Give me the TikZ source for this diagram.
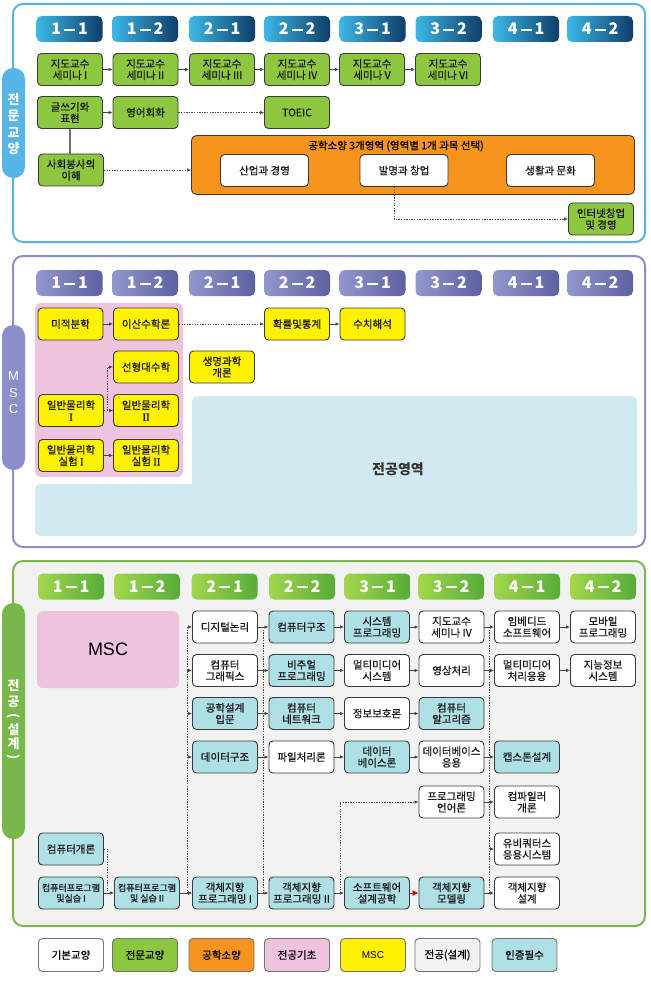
\documentclass[tikz,border=0pt]{standalone}
\usepackage{fontspec}
\usepackage{graphicx}
\setmainfont{Noto Sans CJK KR}
\newfontfamily\krm{Noto Sans CJK KR}[FakeBold=0.7]
\newfontfamily\lat{Liberation Sans}
\newfontfamily\latser{Liberation Serif}[FakeBold=0.5]
\usetikzlibrary{arrows.meta}
\definecolor{blueframe}{HTML}{56B5E4}
\definecolor{purpframe}{HTML}{8B8EC8}
\definecolor{greenframe}{HTML}{78B84A}
\definecolor{cgreen}{HTML}{8DC63F}
\definecolor{corange}{HTML}{F7941D}
\definecolor{cpink}{HTML}{EEC3DD}
\definecolor{cyellow}{HTML}{FFF200}
\definecolor{cgray}{HTML}{F2F2F2}
\definecolor{ccyan}{HTML}{AEE0E6}
\definecolor{clblue}{HTML}{D1EAF1}
\definecolor{bord}{HTML}{3A3A3A}
\definecolor{sAl}{HTML}{3DB8E6}
\definecolor{sAr}{HTML}{0F3D69}
\definecolor{sBl}{HTML}{9297CE}
\definecolor{sBr}{HTML}{5C60A0}
\definecolor{sCl}{HTML}{A3D64C}
\definecolor{sCr}{HTML}{56AC38}
\definecolor{lnk}{HTML}{454545}
\tikzset{
  box/.style={draw=bord, line width=0.9pt, rounded corners=4pt, minimum width=65pt,
    minimum height=32pt, inner sep=0pt, align=center, text=black!90,
    font=\krm\fontsize{10.5}{11.5}\selectfont},
  gbox/.style={box, fill=cgreen},
  ybox/.style={box, fill=cyellow},
  cbox/.style={box, fill=ccyan},
  wbox/.style={box, fill=white},
  sem/.style={rounded corners=5pt, minimum width=66pt, minimum height=26pt, inner sep=0pt,
    text=white, font=\fontsize{16}{16}\selectfont\bfseries},
  semA/.style={sem, left color=sAl, right color=sAr},
  semB/.style={sem, left color=sBl, right color=sBr},
  semC/.style={sem, left color=sCl, right color=sCr},
  arr/.style={-{Latex[length=4pt,width=3.5pt]}, draw=lnk, line width=0.8pt},
  dotline/.style={draw=lnk, line width=0.7pt, dash pattern=on 1.3pt off 1.3pt},
  dotarr/.style={dotline, -{Latex[length=4pt,width=3.5pt]}},
  tabtxt/.style={text=white, inner sep=0pt, font=\fontsize{13}{13}\selectfont\bfseries},
  leg/.style={draw=black!55, line width=0.9pt, rounded corners=4pt, minimum width=65pt,
    minimum height=33pt, inner sep=0pt, align=center, font=\krm\fontsize{10.5}{11.5}\selectfont}
}
\newcommand{\sdash}[2]{#1\hspace{3pt}\rule[4.2pt]{11pt}{1.8pt}\hspace{3pt}#2}
\begin{document}
\begin{tikzpicture}[x=1pt,y=-1pt]
\useasboundingbox (0,0) rectangle (650,992);
\fill[white] (0,0) rectangle (650,992);

% ===================== Section 1 =====================
\draw[blueframe, line width=2pt, rounded corners=10pt] (13,4) rectangle (645,242);
\fill[blueframe, rounded corners=11pt] (2,68) rectangle (25,178);
\node[tabtxt, align=center, font=\fontsize{13}{16.5}\selectfont\bfseries] (tab1) at (13.5,124) {전\\문\\교\\양};

\node[semA] (a1) at (69.5,29) {\sdash{1}{1}};
\node[semA] (a2) at (145,29) {\sdash{1}{2}};
\node[semA] (a3) at (222,29) {\sdash{2}{1}};
\node[semA] (a4) at (297,29) {\sdash{2}{2}};
\node[semA] (a5) at (372.5,29) {\sdash{3}{1}};
\node[semA] (a6) at (448.5,29) {\sdash{3}{2}};
\node[semA] (a7) at (526,29) {\sdash{4}{1}};
\node[semA] (a8) at (600,29) {\sdash{4}{2}};

\node[gbox] (g1) at (70,69.5) {지도교수\\세미나 I};
\node[gbox] (g2) at (145.5,69.5) {지도교수\\세미나 II};
\node[gbox] (g3) at (222,69.5) {지도교수\\세미나 III};
\node[gbox] (g4) at (297,69.5) {지도교수\\세미나 IV};
\node[gbox] (g5) at (372,69.5) {지도교수\\세미나 V};
\node[gbox] (g6) at (448,69.5) {지도교수\\세미나 VI};
\draw[arr] (g1) -- (g2);
\draw[arr] (g2) -- (g3);
\draw[arr] (g3) -- (g4);
\draw[arr] (g4) -- (g5);
\draw[arr] (g5) -- (g6);

\node[gbox] (wr) at (70,112.5) {글쓰기와\\표현};
\node[gbox] (eng) at (145.5,112.5) {영어회화};
\node[gbox] (toeic) at (297,112.5) {TOEIC};
\draw[arr] (wr) -- (eng);
\draw[dotarr] (eng) -- (toeic);

\node[gbox] (soc) at (71,170) {사회봉사의\\이해};
\draw[black!55, line width=1.2pt] (wr.south) -- (wr.south |- soc.north);

\node[draw=bord, line width=0.9pt, fill=corange, rounded corners=5pt, minimum width=443pt,
  minimum height=59pt, inner sep=0pt] (eng3) at (413,165) {};
\node[inner sep=0pt, font=\krm\fontsize{10.5}{11}\selectfont] (eng3t) at (396,146) {공학소양 3개영역 (영역별 1개 과목 선택)};
\node[wbox, minimum width=88pt] (ind) at (264.5,170.5) {산업과 경영};
\node[wbox, minimum width=88pt] (inv) at (404,170.5) {발명과 창업};
\node[wbox, minimum width=88pt] (life) at (550.5,170.5) {생활과 문화};
\draw[dotarr] (soc) -- (soc -| eng3.west);

\node[gbox] (inet) at (601,219) {인터넷창업\\및 경영};
\coordinate (bs) at (394,187);
\draw[dotarr] (bs) |- (inet.west);

% ===================== Section 2 =====================
\draw[purpframe, line width=2pt, rounded corners=10pt] (13,256) rectangle (645,547);
\fill[purpframe, rounded corners=11pt] (2,325) rectangle (25,470);
\node[tabtxt, align=center, font=\lat\fontsize{13}{16.5}\selectfont] (tab2) at (13.5,393) {M\\S\\C};

\node[semB] (b1) at (69.5,283) {\sdash{1}{1}};
\node[semB] (b2) at (145,283) {\sdash{1}{2}};
\node[semB] (b3) at (222,283) {\sdash{2}{1}};
\node[semB] (b4) at (297,283) {\sdash{2}{2}};
\node[semB] (b5) at (372.5,283) {\sdash{3}{1}};
\node[semB] (b6) at (448.5,283) {\sdash{3}{2}};
\node[semB] (b7) at (526,283) {\sdash{4}{1}};
\node[semB] (b8) at (600,283) {\sdash{4}{2}};

\fill[cpink, rounded corners=6pt] (35,303) rectangle (183,477);
\fill[clblue, rounded corners=6pt] (192,396) rectangle (637,536);
\fill[clblue, rounded corners=6pt] (35,484) rectangle (637,536);
\node[inner sep=0pt, font=\fontsize{14}{14}\selectfont\bfseries, text=black!80] (major) at (398,469) {전공영역};

\node[ybox] (calc) at (70.5,324) {미적분학};
\node[ybox] (disc) at (146,324) {이산수학론};
\node[ybox] (prob) at (297,324) {확률및통계};
\node[ybox] (num) at (372.5,324) {수치해석};
\node[ybox] (lin) at (146,367) {선형대수학};
\node[ybox] (bio) at (222,367) {생명과학\\개론};
\node[ybox] (p1) at (71,410.5) {일반물리학\\{\latser I}};
\node[ybox] (p2) at (146,410.5) {일반물리학\\{\latser II}};
\node[ybox] (p3) at (71,455.5) {일반물리학\\실험 {\latser I}};
\node[ybox] (p4) at (146,455.5) {일반물리학\\실험 {\latser II}};
\draw[arr] (calc) -- (disc);
\draw[dotarr] (disc) -- (prob);
\draw[arr] (prob) -- (num);
\draw[dotarr] (p1) -- (p2);
\coordinate (jm) at (107.5,410.5);
\draw[dotarr] (jm) |- (lin.west);
\draw[arr] (p3) -- (p4);

% ===================== Section 3 =====================
\draw[greenframe, fill=cgray, line width=2pt, rounded corners=10pt] (13,561) rectangle (645,926);
\fill[greenframe, rounded corners=11pt] (2,603) rectangle (25,839);
\node[tabtxt] (t3a) at (13.5,686) {전};
\node[tabtxt] (t3b) at (13.5,702) {공};
\node[tabtxt] (t3c) at (13.5,716) {\rotatebox{-90}{(}};
\node[tabtxt] (t3d) at (13.5,730) {설};
\node[tabtxt] (t3e) at (13.5,744) {계};
\node[tabtxt] (t3f) at (13.5,757) {\rotatebox{-90}{)}};

\node[semC] (c1) at (71,586.5) {\sdash{1}{1}};
\node[semC] (c2) at (147,586.5) {\sdash{1}{2}};
\node[semC] (c3) at (224.5,586.5) {\sdash{2}{1}};
\node[semC] (c4) at (302,586.5) {\sdash{2}{2}};
\node[semC] (c5) at (377.5,586.5) {\sdash{3}{1}};
\node[semC] (c6) at (451,586.5) {\sdash{3}{2}};
\node[semC] (c7) at (527,586.5) {\sdash{4}{1}};
\node[semC] (c8) at (603,586.5) {\sdash{4}{2}};

\node[fill=cpink, rounded corners=6pt, minimum width=142pt, minimum height=77pt, inner sep=0pt,
  font=\lat\fontsize{18}{18}\selectfont] (msc) at (108,649.5) {MSC};

% row 1
\node[wbox] (dl) at (225,627) {디지털논리};
\node[cbox] (ca) at (301.5,627) {컴퓨터구조};
\node[cbox] (sp) at (377,627) {시스템\\프로그래밍};
\node[wbox] (s4) at (451.5,627) {지도교수\\세미나 IV};
\node[wbox] (emb) at (527,627) {임베디드\\소프트웨어};
\node[wbox] (mob) at (603,627) {모바일\\프로그래밍};
% row 2
\node[wbox] (cg) at (225,670.5) {컴퓨터\\그래픽스};
\node[cbox] (vp) at (301.5,670.5) {비주얼\\프로그래밍};
\node[wbox] (mms) at (377,670.5) {멀티미디어\\시스템};
\node[wbox] (ip) at (451.5,670.5) {영상처리};
\node[wbox] (mma) at (527,670.5) {멀티미디어\\처리응용};
\node[wbox] (ais) at (603,670.5) {지능정보\\시스템};
% row 3
\node[cbox] (edi) at (225,713.5) {공학설계\\입문};
\node[cbox] (net) at (301.5,713.5) {컴퓨터\\네트워크};
\node[wbox] (sec) at (377,713.5) {정보보호론};
\node[cbox] (alg) at (451.5,713.5) {컴퓨터\\알고리즘};
% row 4
\node[cbox] (ds) at (225,757) {데이터구조};
\node[wbox] (fp) at (301.5,757) {파일처리론};
\node[cbox] (db) at (377,757) {데이터\\베이스론};
\node[wbox] (dba) at (451.5,757) {데이터베이스\\응용};
\node[cbox] (cap) at (527,757) {캡스톤설계};
% row 5
\node[wbox] (pl) at (451.5,802) {프로그래밍\\언어론};
\node[wbox] (comp) at (527,802) {컴파일러\\개론};
% row 6
\node[cbox] (intro) at (71,849) {컴퓨터개론};
\node[wbox] (ubi) at (527,849) {유비쿼터스\\응용시스템};
% row 7
\node[cbox, font=\krm\fontsize{9}{10.5}\selectfont] (cp1) at (71,893) {컴퓨터프로그램\\및실습 I};
\node[cbox, font=\krm\fontsize{9}{10.5}\selectfont] (cp2) at (147,893) {컴퓨터프로그램\\및 실습 II};
\node[cbox] (oo1) at (225,893) {객체지향\\프로그래밍 I};
\node[cbox] (oo2) at (301.5,893) {객체지향\\프로그래밍 II};
\node[cbox] (swe) at (377,893) {소프트웨어\\설계공학};
\node[cbox] (oom) at (451.5,893) {객체지향\\모델링};
\node[wbox] (ood) at (527,893) {객체지향\\설계};

% vertical dotted lines
\coordinate (v1t) at (187,627); \coordinate (v1b) at (187,893);
\coordinate (v2t) at (263,627); \coordinate (v2b) at (263,893);
\coordinate (v3t) at (489.5,627); \coordinate (v3b) at (489.5,893);
\draw[dotline] (v1t) -- (v1b);
\draw[dotline] (v2t) -- (v2b);
\draw[dotline] (v3t) -- (v3b);
\foreach \n in {dl,cg,edi,ds,oo1} \draw[arr] (\n.west -| v1t) -- (\n.west);
\foreach \n in {ubi} \draw[arr] (\n.west -| v3t) -- (\n.west);

% row arrows
\draw[arr] (dl) -- (ca); \draw[arr] (ca) -- (sp); \draw[arr] (sp) -- (s4);
\draw[arr] (s4) -- (emb); \draw[arr] (emb) -- (mob);
\draw[arr] (cg) -- (vp); \draw[arr] (vp) -- (mms); \draw[arr] (mms) -- (ip);
\draw[arr] (ip) -- (mma); \draw[arr] (mma) -- (ais);
\draw[arr] (edi) -- (net); \draw[arr] (net) -- (sec); \draw[arr] (sec) -- (alg);
\draw[arr] (ds) -- (fp); \draw[arr] (fp) -- (db); \draw[arr] (db) -- (dba); \draw[arr] (dba) -- (cap);
\draw[arr] (pl) -- (comp);
\draw[arr] (cp1) -- (cp2); \draw[arr] (cp2) -- (oo1); \draw[arr] (oo1) -- (oo2);
\draw[arr] (oo2) -- (swe);
\draw[-{Latex[length=6pt,width=6pt]}, draw=red!85!black, fill=red, line width=0.9pt] (swe) -- (oom);
\draw[arr] (oom) -- (ood);

\coordinate (k1) at (107,893);
\draw[dotline] (intro.east) -| (k1);
\coordinate (k2) at (340,893);
\draw[dotarr] (k2) |- (pl.west);

% ===================== Legend =====================
\node[leg, fill=white] (l1) at (71,955) {기본교양};
\node[leg, fill=cgreen] (l2) at (145,955) {전문교양};
\node[leg, fill=corange] (l3) at (221.5,955) {공학소양};
\node[leg, fill=cpink] (l4) at (297,955) {전공기초};
\node[leg, fill=cyellow, font=\lat\fontsize{10}{11}\selectfont] (l5) at (373,955) {MSC};
\node[leg, fill=cgray] (l6) at (447.5,955) {전공(설계)};
\node[leg, fill=ccyan] (l7) at (524.5,955) {인증필수};
\end{tikzpicture}
\end{document}
